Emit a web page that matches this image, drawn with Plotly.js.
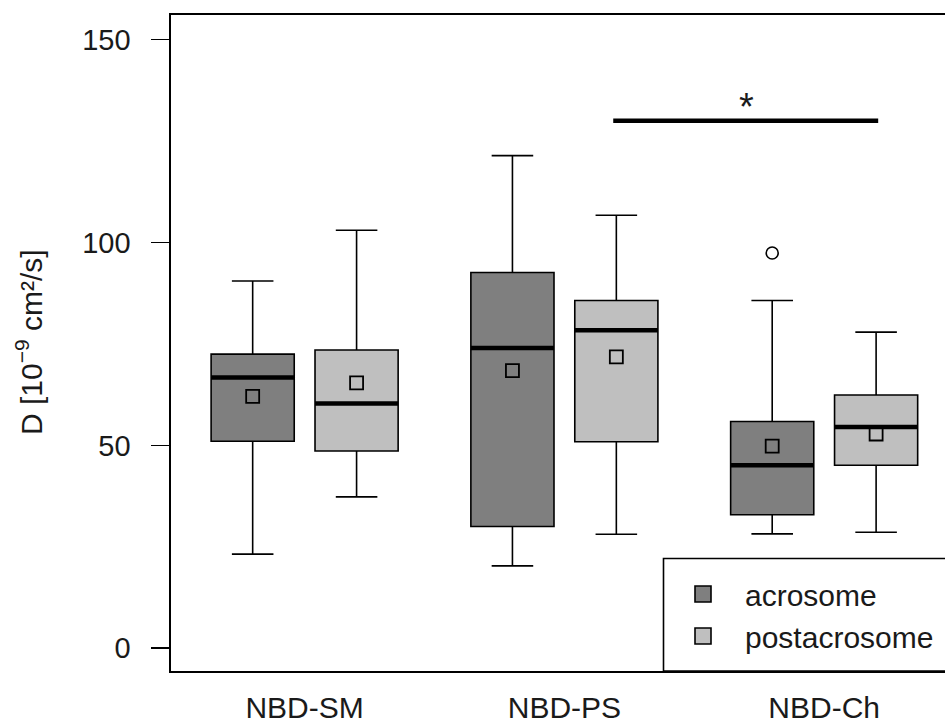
<!DOCTYPE html>
<html>
<head>
<meta charset="utf-8">
<script src="https://cdn.plot.ly/plotly-3.0.1.min.js"></script>
<style>
  html, body { margin: 0; padding: 0; background: #ffffff; }
  #chart { width: 945px; height: 724px; }
</style>
</head>
<body>
<div id="chart"></div>
<script>
// ---- data ----
const categories = ['NBD-SM', 'NBD-PS', 'NBD-Ch'];
const categoryPos = [1.5, 4, 6.5];
const groupNames = ['acrosome', 'postacrosome'];

const acroPos = [1, 3.5, 6];
const acroLower = [23.2, 20.3, 28.2];
const acroQ1 = [51.0, 30.0, 32.9];
const acroMedian = [66.7, 74.0, 45.1];
const acroQ3 = [72.5, 92.6, 55.9];
const acroUpper = [90.5, 121.4, 85.7];
const acroMean = [62.1, 68.4, 49.8];

const postPos = [2, 4.5, 7];
const postLower = [37.3, 28.1, 28.6];
const postQ1 = [48.6, 50.9, 45.1];
const postMedian = [60.3, 78.4, 54.5];
const postQ3 = [73.5, 85.7, 62.4];
const postUpper = [103.0, 106.7, 77.9];
const postMean = [65.4, 71.8, 52.8];

const outlierX = [6];
const outlierY = [97.4];

const sigX = [4.47, 7.02];
const sigY = [130, 130];
const sigLabel = '*';
const sigLabelPos = [5.75, 133.5];

const yTickVals = [0, 50, 100, 150];

// ---- styles ----
const FONT = 'Liberation Sans, Arial, Helvetica, sans-serif';
const darkFill = '#7f7f7f';
const lightFill = '#bfbfbf';
const boxWidth = 0.8;

function medianSegments(pos, med) {
  const xs = [], ys = [];
  pos.forEach((p, i) => {
    xs.push(p - boxWidth / 2, p + boxWidth / 2, null);
    ys.push(med[i], med[i], null);
  });
  return { x: xs, y: ys };
}

function boxTrace(name, pos, lo, q1, med, q3, hi, fill) {
  return {
    type: 'box', name: name, x: pos,
    lowerfence: lo, q1: q1, median: med, q3: q3, upperfence: hi,
    width: boxWidth, whiskerwidth: 0.5,
    fillcolor: fill, line: { color: '#000000', width: 1.6 },
    boxpoints: false, showlegend: false, hoverinfo: 'skip'
  };
}

const acroMedSeg = medianSegments(acroPos, acroMedian);
const postMedSeg = medianSegments(postPos, postMedian);

const traces = [
  boxTrace(groupNames[0], acroPos, acroLower, acroQ1, acroMedian, acroQ3, acroUpper, darkFill),
  boxTrace(groupNames[1], postPos, postLower, postQ1, postMedian, postQ3, postUpper, lightFill),
  { type: 'scatter', mode: 'lines', x: acroMedSeg.x, y: acroMedSeg.y,
    line: { color: '#000000', width: 4.5 }, showlegend: false, hoverinfo: 'skip' },
  { type: 'scatter', mode: 'lines', x: postMedSeg.x, y: postMedSeg.y,
    line: { color: '#000000', width: 4.5 }, showlegend: false, hoverinfo: 'skip' },
  { type: 'scatter', mode: 'markers', x: acroPos.concat(postPos), y: acroMean.concat(postMean),
    marker: { symbol: 'square-open', size: 13, color: '#000000', line: { width: 1.8, color: '#000000' } },
    showlegend: false, hoverinfo: 'skip' },
  { type: 'scatter', mode: 'markers', x: outlierX, y: outlierY,
    marker: { symbol: 'circle-open', size: 12, color: '#000000', line: { width: 1.6, color: '#000000' } },
    showlegend: false, hoverinfo: 'skip' },
  { type: 'scatter', mode: 'lines', x: sigX, y: sigY,
    line: { color: '#000000', width: 4.5 }, showlegend: false, hoverinfo: 'skip' },
  // legend entries
  { type: 'scatter', mode: 'markers', x: [null], y: [null], name: groupNames[0],
    marker: { symbol: 'square', size: 19, color: darkFill, line: { width: 1.6, color: '#000000' } } },
  { type: 'scatter', mode: 'markers', x: [null], y: [null], name: groupNames[1],
    marker: { symbol: 'square', size: 19, color: lightFill, line: { width: 1.6, color: '#000000' } } }
];

const W = 945, H = 724;
const mL = 171, mR = 0, mT = 15, mB = 53;
const plotW = W - mL - mR, plotH = H - mT - mB;
const px2paperX = px => (px - mL) / plotW;
const px2paperY = py => (H - mB - py) / plotH;

const layout = {
  width: W, height: H,
  margin: { l: mL, r: mR, t: mT, b: mB, pad: 0 },
  paper_bgcolor: '#ffffff', plot_bgcolor: '#ffffff',
  font: { family: FONT, color: '#1a1a1a', size: 28 },
  boxmode: 'overlay',
  showlegend: true,
  xaxis: {
    range: [0.214, 7.663], showgrid: false, zeroline: false,
    showline: true, linecolor: '#000000', linewidth: 1.6, mirror: true,
    tickmode: 'array', tickvals: categoryPos, ticktext: categories,
    ticks: '', ticklabelstandoff: 9,
    tickfont: { family: FONT, size: 30, color: '#1a1a1a' }
  },
  yaxis: {
    range: [-5.6, 156.06], showgrid: false, zeroline: false,
    showline: true, linecolor: '#000000', linewidth: 1.6, mirror: false,
    tickmode: 'array', tickvals: yTickVals,
    ticks: 'outside', ticklen: 18, tickwidth: 1.6, tickcolor: '#000000',
    ticklabelstandoff: 15,
    tickfont: { family: FONT, size: 29, color: '#1a1a1a' }
  },
  legend: {
    x: px2paperX(661), xanchor: 'left',
    y: px2paperY(568), yanchor: 'top',
    bgcolor: 'rgba(255,255,255,0)', borderwidth: 0,
    font: { family: FONT, size: 30, color: '#1a1a1a' },
    itemwidth: 74, tracegroupgap: 0
  },
  shapes: [
    { type: 'rect', xref: 'paper', yref: 'paper',
      x0: px2paperX(663.5), x1: 1.05, y0: 0, y1: px2paperY(558.5),
      line: { color: '#000000', width: 1.6 }, fillcolor: '#ffffff', layer: 'above' }
  ],
  annotations: [
    { xref: 'x', yref: 'y', x: sigLabelPos[0], y: sigLabelPos[1], text: sigLabel,
      showarrow: false, font: { family: FONT, size: 38, color: '#1a1a1a' },
      xanchor: 'center', yanchor: 'middle' },
    { xref: 'paper', yref: 'paper', x: px2paperX(29), y: px2paperY(342),
      text: 'D [10<sup>−9</sup> cm²/s]', textangle: -90, showarrow: false,
      font: { family: FONT, size: 30, color: '#1a1a1a' },
      xanchor: 'center', yanchor: 'middle' }
  ]
};

Plotly.newPlot('chart', traces, layout, { displayModeBar: false, staticPlot: true });
</script>
</body>
</html>
